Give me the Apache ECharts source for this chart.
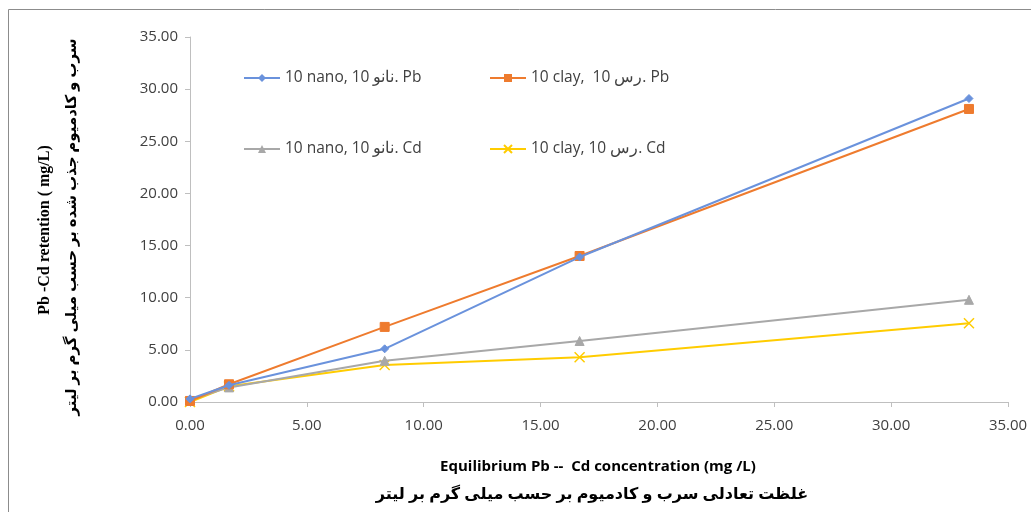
<!DOCTYPE html>
<html><head><meta charset="utf-8">
<script src="https://cdn.jsdelivr.net/npm/echarts@6/dist/echarts.min.js"></script>
<style>html,body{margin:0;padding:0;background:#fff}#c{width:1031px;height:512px}</style>
</head><body><div id="c"></div>
<script>
const xValues = [0, 1.67, 8.33, 16.67, 33.33];
const pbNano = [0.3, 1.6, 5.1, 13.9, 29.1];
const pbClay = [0.1, 1.7, 7.2, 14.0, 28.1];
const cdNano = [0.2, 1.4, 3.95, 5.85, 9.8];
const cdClay = [0.0, 1.5, 3.55, 4.3, 7.55];
const seriesNames = ['10 nano, 10 نانو. Pb', '10 clay,  10 رس. Pb', '10 nano, 10 نانو. Cd', '10 clay, 10 رس. Cd'];
const colors = ['#6a92dc', '#ee7b2e', '#a8a8a8', '#ffcc00'];
const xTitle = 'Equilibrium Pb --  Cd concentration (mg /L)';
const xTitleFa = 'غلظت تعادلی سرب و کادمیوم بر حسب میلی گرم بر لیتر';
const yTitle = 'Pb -Cd retention ( mg/L)';
const yTitleFa = 'سرب و کادمیوم جذب شده بر حسب میلی گرم بر لیتر';

const xPath = 'path://M0,0L10,10M10,0L0,10';
const symbols = ['diamond', 'rect', 'triangle', xPath];
const symSizes = [8, 9, 9, 10];
const dataSets = [pbNano, pbClay, cdNano, cdClay];

const chart = echarts.init(document.getElementById('c'));
const legendPos = [[238, 65], [484, 65], [238, 136], [484, 136]];
const font = '"Open Sans", "Noto Sans", sans-serif';
chart.setOption({
  animation: false,
  grid: {left: 190, right: 23, top: 37, bottom: 110},
  legend: seriesNames.map((n, i) => ({
    data: [n], left: legendPos[i][0], top: legendPos[i][1],
    itemWidth: 36, itemHeight: 10, itemGap: 4,
    textStyle: {fontFamily: font, fontSize: 15.5, color: '#404040'}
  })),
  xAxis: {
    type: 'value', min: 0, max: 35, interval: 5,
    axisLine: {show: true, lineStyle: {color: '#bfbfbf', width: 1}},
    axisTick: {show: true, length: 5, lineStyle: {color: '#bfbfbf'}},
    splitLine: {show: false},
    axisLabel: {formatter: v => v.toFixed(2), fontFamily: font, fontSize: 15, color: '#404040', margin: 16}
  },
  yAxis: {
    type: 'value', min: 0, max: 35, interval: 5,
    axisLine: {show: true, lineStyle: {color: '#bfbfbf', width: 1}},
    axisTick: {show: true, length: 5, lineStyle: {color: '#bfbfbf'}},
    splitLine: {show: false},
    axisLabel: {formatter: v => v.toFixed(2), fontFamily: font, fontSize: 15, color: '#404040', margin: 12}
  },
  series: dataSets.map((d, i) => ({
    name: seriesNames[i], type: 'line',
    data: xValues.map((x, j) => [x, d[j]]),
    symbol: symbols[i], symbolSize: symSizes[i], showSymbol: true,
    lineStyle: {color: colors[i], width: 2},
    itemStyle: i === 3 ? {color: 'none', borderColor: colors[i], borderWidth: 1.5} : {color: colors[i], borderColor: colors[i]},
    z: 10 - i
  })),
  graphic: [
    {type: 'polyline', shape: {points: [[8.5, 512], [8.5, 9.5], [1031, 9.5]]}, style: {stroke: '#8c8c8c', lineWidth: 1, fill: null}},
    {type: 'text', x: 598, y: 467, style: {text: xTitle, font: 'bold 15px "Open Sans", sans-serif', fill: '#000', align: 'center', verticalAlign: 'middle'}},
    {type: 'text', x: 592, y: 494, style: {text: xTitleFa, font: 'bold 16px "Noto Sans", "DejaVu Sans", sans-serif', fill: '#000', align: 'center', verticalAlign: 'middle'}},
    {type: 'text', x: 45, y: 230, rotation: Math.PI / 2, style: {text: yTitle, font: 'bold 16px "Liberation Serif", serif', fill: '#000', align: 'center', verticalAlign: 'middle'}},
    {type: 'text', x: 72, y: 227, rotation: Math.PI / 2, style: {text: yTitleFa, font: 'bold 15px "Noto Sans", "DejaVu Sans", sans-serif', fill: '#000', align: 'center', verticalAlign: 'middle'}}
  ]
});
</script></body></html>
